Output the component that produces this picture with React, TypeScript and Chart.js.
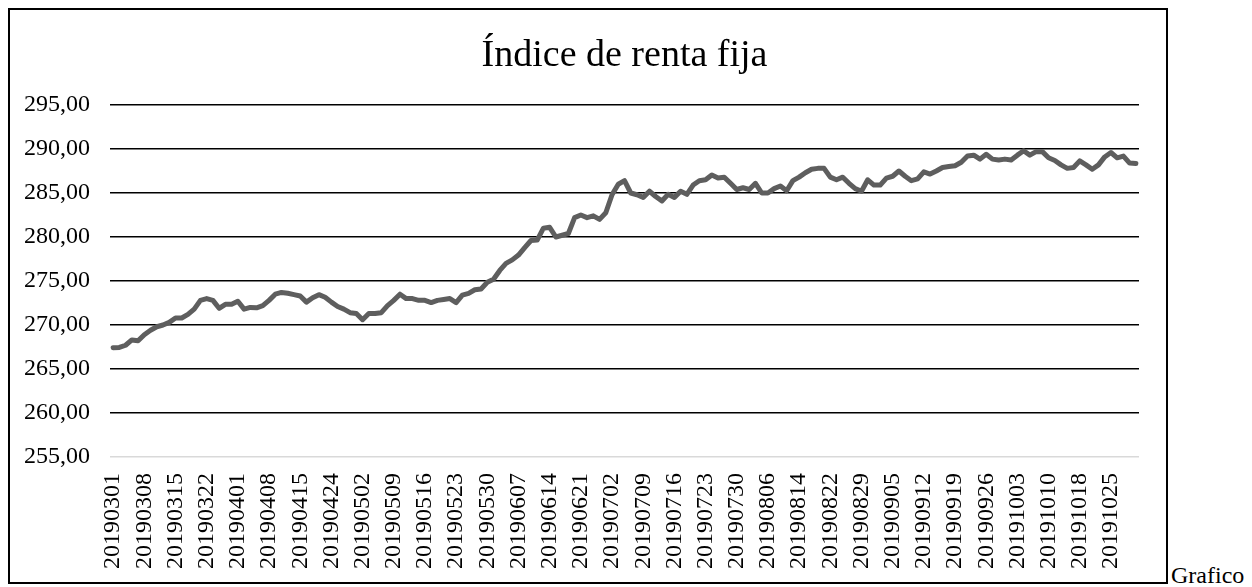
import React, { useEffect, useRef } from "react";
import { Chart, registerables } from "chart.js";

Chart.register(...registerables);

const TITLE = "Índice de renta fija";
const SIDE_TEXT = "Grafico";

const dates: string[] = [
  "20190301", "20190304", "20190305", "20190306", "20190307", "20190308", "20190311", "20190312", "20190313", "20190314",
  "20190315", "20190318", "20190319", "20190320", "20190321", "20190322", "20190326", "20190327", "20190328", "20190329",
  "20190401", "20190402", "20190403", "20190404", "20190405", "20190408", "20190409", "20190410", "20190411", "20190412",
  "20190415", "20190416", "20190417", "20190422", "20190423", "20190424", "20190425", "20190426", "20190429", "20190430",
  "20190502", "20190503", "20190506", "20190507", "20190508", "20190509", "20190510", "20190513", "20190514", "20190515",
  "20190516", "20190517", "20190520", "20190521", "20190522", "20190523", "20190524", "20190527", "20190528", "20190529",
  "20190530", "20190531",
  "20190604", "20190605", "20190606", "20190607", "20190610", "20190611", "20190612", "20190613", "20190614", "20190617",
  "20190618", "20190619", "20190620", "20190621", "20190625", "20190626", "20190627", "20190628",
  "20190702", "20190703", "20190704", "20190705", "20190708", "20190709", "20190710", "20190711", "20190712", "20190715",
  "20190716", "20190717", "20190718", "20190719", "20190722", "20190723", "20190724", "20190725", "20190726", "20190729",
  "20190730", "20190731",
  "20190801", "20190802", "20190805", "20190806", "20190808", "20190809", "20190812", "20190813", "20190814", "20190815",
  "20190816", "20190820", "20190821", "20190822", "20190823", "20190826", "20190827", "20190828", "20190829", "20190830",
  "20190902", "20190903", "20190904", "20190905", "20190906", "20190909", "20190910", "20190911", "20190912", "20190913",
  "20190916", "20190917", "20190918", "20190919", "20190920", "20190923", "20190924", "20190925", "20190926", "20190927",
  "20190930",
  "20191001", "20191002", "20191003", "20191004", "20191007", "20191008", "20191009", "20191010", "20191011", "20191015",
  "20191016", "20191017", "20191018", "20191021", "20191022", "20191023", "20191024", "20191025", "20191028", "20191029",
  "20191030", "20191031",
];

const values: number[] = [
  // marzo
  267.42, 267.45, 267.7, 268.3, 268.2, 268.9, 269.4, 269.8, 270.0, 270.3,
  270.8, 270.8, 271.2, 271.8, 272.8, 273.0, 272.8, 271.9, 272.35, 272.35,
  // abril
  272.7, 271.8, 272.0, 271.95, 272.2, 272.8, 273.5, 273.7, 273.6, 273.45,
  273.3, 272.6, 273.1, 273.45, 273.15, 272.6, 272.1, 271.8, 271.4, 271.3,
  // mayo
  270.6, 271.3, 271.3, 271.4, 272.2, 272.8, 273.5, 273.0, 273.0, 272.8,
  272.8, 272.55, 272.8, 272.9, 273.0, 272.55, 273.4, 273.6, 274.0, 274.1,
  274.85, 275.2,
  // junio
  276.2, 277.0, 277.4, 277.95, 278.8, 279.6, 279.65, 281.0, 281.1, 280.0,
  280.2, 280.4, 282.2, 282.5, 282.2, 282.4, 282.0, 282.75,
  // julio
  284.8, 286.0, 286.4, 285.0, 284.8, 284.5, 285.2, 284.6, 284.1, 284.85,
  284.5, 285.2, 284.85, 285.9, 286.4, 286.5, 287.05, 286.7, 286.8, 286.1,
  285.4, 285.6,
  // agosto
  285.4, 286.1, 285.0, 285.0, 285.5, 285.8, 285.25, 286.4, 286.8, 287.3,
  287.7, 287.8, 287.8, 286.8, 286.5, 286.8, 286.1, 285.5, 285.2, 286.5,
  // septiembre
  285.9, 285.9, 286.7, 286.9, 287.5, 286.9, 286.4, 286.6, 287.4, 287.15,
  287.5, 287.9, 288.0, 288.1, 288.5, 289.2, 289.3, 288.85, 289.4, 288.85,
  288.75,
  // octubre
  288.85, 288.75, 289.3, 289.8, 289.3, 289.7, 289.7, 289.0, 288.7, 288.2,
  287.8, 287.9, 288.65, 288.2, 287.7, 288.2, 289.1, 289.6, 289.0, 289.2,
  288.4, 288.35,
];

const Y_MIN = 255;
const Y_MAX = 295;
const Y_STEP = 5;
const LABEL_EVERY = 5;

const FONT = "'Liberation Serif', 'Times New Roman', serif";

const titlePlugin = {
  id: "centeredTitle",
  afterDraw(chart: any) {
    const { ctx, chartArea } = chart;
    ctx.save();
    ctx.font = `38px ${FONT}`;
    ctx.fillStyle = "#000";
    ctx.textAlign = "center";
    ctx.textBaseline = "middle";
    ctx.fillText(TITLE, (chartArea.left + chartArea.right) / 2, 46);
    ctx.restore();
  },
};

export default function App() {
  const canvasRef = useRef<HTMLCanvasElement | null>(null);

  useEffect(() => {
    if (!canvasRef.current) return;
    const chart = new Chart(canvasRef.current, {
      type: "line",
      data: {
        labels: dates,
        datasets: [
          {
            data: values,
            borderColor: "#5e5e5e",
            borderWidth: 5,
            pointRadius: 0,
            tension: 0,
            fill: false,
            borderJoinStyle: "round",
            borderCapStyle: "round",
          },
        ],
      },
      options: {
        animation: false,
        responsive: true,
        maintainAspectRatio: false,
        layout: { padding: { left: 0, right: 27, top: 95, bottom: 13 } },
        plugins: {
          legend: { display: false },
          tooltip: { enabled: false },
          title: { display: false },
        },
        scales: {
          x: {
            type: "category",
            offset: true,
            grid: { display: false, drawTicks: false },
            border: { display: false },
            afterFit: (scale: any) => {
              scale.height = 112;
              scale.paddingLeft = 0;
              scale.paddingRight = 0;
            },
            ticks: {
              autoSkip: false,
              minRotation: 90,
              maxRotation: 90,
              padding: 16,
              color: "#000",
              font: { family: FONT, size: 24 },
              callback: function (this: any, value: any, index: number) {
                return index % LABEL_EVERY === 0 ? dates[index] : "";
              },
            },
          },
          y: {
            min: Y_MIN,
            max: Y_MAX,
            border: { display: false },
            afterFit: (scale: any) => {
              scale.width = 100;
            },
            grid: {
              drawTicks: false,
              lineWidth: 1.5,
              color: (ctx: any) => (ctx.tick && ctx.tick.value === Y_MIN ? "#d9d9d9" : "#000"),
            },
            ticks: {
              stepSize: Y_STEP,
              padding: 20,
              color: "#000",
              font: { family: FONT, size: 24 },
              callback: (v: any) => Number(v).toFixed(2).replace(".", ","),
            },
          },
        },
      },
      plugins: [titlePlugin],
    });
    return () => chart.destroy();
  }, []);

  return (
    <div style={{ display: "flex", alignItems: "flex-end" }}>
      <div
        style={{
          width: 1160,
          height: 576,
          border: "2px solid #000",
          boxSizing: "border-box",
          position: "relative",
          flex: "none",
        }}
      >
        <canvas ref={canvasRef} />
      </div>
      <span
        style={{
          fontFamily: FONT,
          fontSize: 24,
          lineHeight: "24px",
          marginLeft: 3,
          marginBottom: -3,
          color: "#000",
        }}
      >
        {SIDE_TEXT}
      </span>
    </div>
  );
}
